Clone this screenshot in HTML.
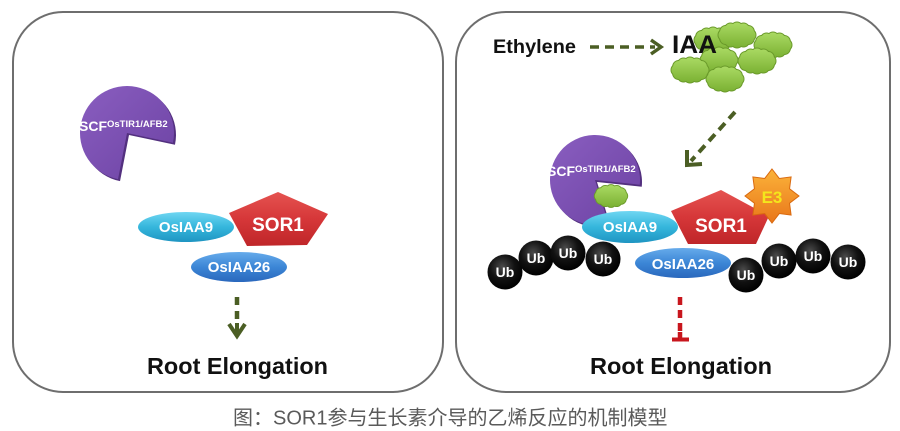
<!DOCTYPE html>
<html>
<head>
<meta charset="utf-8">
<style>
html,body{margin:0;padding:0;background:#fff;width:900px;height:431px;overflow:hidden}
svg{display:block}
</style>
</head>
<body>
<svg width="900" height="431" viewBox="0 0 900 431" xmlns="http://www.w3.org/2000/svg" xmlns:xlink="http://www.w3.org/1999/xlink" font-family="'Liberation Sans', Arial, sans-serif">
<defs>
  <linearGradient id="cyanG" x1="0" y1="0" x2="0" y2="1">
    <stop offset="0" stop-color="#6fd6f2"/>
    <stop offset="0.5" stop-color="#35b6dc"/>
    <stop offset="1" stop-color="#1f95c2"/>
  </linearGradient>
  <linearGradient id="blueG" x1="0" y1="0" x2="0" y2="1">
    <stop offset="0" stop-color="#66abeb"/>
    <stop offset="0.5" stop-color="#3c86d6"/>
    <stop offset="1" stop-color="#2a68bd"/>
  </linearGradient>
  <linearGradient id="redG" x1="0" y1="0" x2="0" y2="1">
    <stop offset="0" stop-color="#e55350"/>
    <stop offset="0.5" stop-color="#d63739"/>
    <stop offset="1" stop-color="#bf2629"/>
  </linearGradient>
  <linearGradient id="purpG" x1="0" y1="0" x2="1" y2="1">
    <stop offset="0" stop-color="#8a5ec0"/>
    <stop offset="1" stop-color="#6c42a3"/>
  </linearGradient>
  <linearGradient id="starG" x1="0" y1="0" x2="0" y2="1">
    <stop offset="0" stop-color="#fbb33a"/>
    <stop offset="1" stop-color="#e9761a"/>
  </linearGradient>
  <radialGradient id="ubG" cx="0.42" cy="0.35" r="0.65">
    <stop offset="0" stop-color="#4a4a4a"/>
    <stop offset="0.55" stop-color="#111"/>
    <stop offset="1" stop-color="#000"/>
  </radialGradient>
  <linearGradient id="cloudG" gradientUnits="userSpaceOnUse" x1="0" y1="-12" x2="0" y2="12">
    <stop offset="0" stop-color="#a9d962"/>
    <stop offset="1" stop-color="#7cb234"/>
  </linearGradient>
  <g id="cloudShape">
    <ellipse cx="0" cy="0" rx="14" ry="8"/>
    <circle cx="13" cy="0" r="5.5"/>
    <circle cx="11.3" cy="3.5" r="5.5"/>
    <circle cx="6.5" cy="6" r="5.5"/>
    <circle cx="0" cy="7" r="5.5"/>
    <circle cx="-6.5" cy="6" r="5.5"/>
    <circle cx="-11.3" cy="3.5" r="5.5"/>
    <circle cx="-13" cy="0" r="5.5"/>
    <circle cx="-11.3" cy="-3.5" r="5.5"/>
    <circle cx="-6.5" cy="-6" r="5.5"/>
    <circle cx="0" cy="-7" r="5.5"/>
    <circle cx="6.5" cy="-6" r="5.5"/>
    <circle cx="11.3" cy="-3.5" r="5.5"/>
  </g>
  <g id="cloud">
    <use xlink:href="#cloudShape" href="#cloudShape" fill="#6a9a2a" stroke="#6a9a2a" stroke-width="2"/>
    <use xlink:href="#cloudShape" href="#cloudShape" fill="url(#cloudG)"/>
  </g>
</defs>

<!-- Panels -->
<rect x="13" y="12" width="430" height="380" rx="50" ry="50" fill="#fff" stroke="#6e6e6e" stroke-width="2"/>
<rect x="456" y="12" width="434" height="380" rx="50" ry="50" fill="#fff" stroke="#6e6e6e" stroke-width="2"/>

<!-- ===== LEFT PANEL ===== -->
<!-- Pacman SCF -->
<path d="M129,135 L120.03,181.14 A47,47 0 1 1 174.97,144.77 Z" fill="#53307f"/>
<path d="M127,133 L118.03,179.14 A47,47 0 1 1 172.97,142.77 Z" fill="url(#purpG)"/>
<text x="79" y="131" font-size="14" font-weight="bold" fill="#fff">SCF<tspan font-size="9.5" dy="-4">OsTIR1/AFB2</tspan></text>

<!-- OsIAA9 -->
<ellipse cx="186" cy="227" rx="48" ry="15" fill="url(#cyanG)"/>
<text x="186" y="232" font-size="15" font-weight="bold" fill="#fff" text-anchor="middle">OsIAA9</text>
<!-- SOR1 -->
<polygon points="278,192 229,213 247,246 307,245 328,214" fill="url(#redG)"/>
<text x="278" y="231" font-size="19" font-weight="bold" fill="#fff" text-anchor="middle">SOR1</text>
<!-- OsIAA26 -->
<ellipse cx="239" cy="267" rx="48" ry="15" fill="url(#blueG)"/>
<text x="239" y="272" font-size="15" font-weight="bold" fill="#fff" text-anchor="middle">OsIAA26</text>

<!-- green dashed down arrow -->
<line x1="237" y1="297" x2="237" y2="320" stroke="#4b5e24" stroke-width="4.5" stroke-dasharray="8,6"/>
<line x1="237" y1="323" x2="237" y2="335" stroke="#4b5e24" stroke-width="4"/>
<polyline points="229,324 237,336 245,324" fill="none" stroke="#4b5e24" stroke-width="4" stroke-linejoin="miter"/>

<text x="237.5" y="374" font-size="23" font-weight="bold" fill="#111" text-anchor="middle" textLength="181" lengthAdjust="spacingAndGlyphs">Root Elongation</text>

<!-- ===== RIGHT PANEL ===== -->
<text x="493" y="53" font-size="19" font-weight="bold" fill="#111" textLength="83" lengthAdjust="spacingAndGlyphs">Ethylene</text>
<line x1="590" y1="47" x2="655" y2="47" stroke="#4b5e24" stroke-width="3.5" stroke-dasharray="9,6"/>
<polyline points="651,40 661,47 651,54" fill="none" stroke="#4b5e24" stroke-width="3.5"/>

<!-- IAA clouds -->
<use xlink:href="#cloud" href="#cloud" transform="translate(713,40)"/>
<use xlink:href="#cloud" href="#cloud" transform="translate(737,35)"/>
<use xlink:href="#cloud" href="#cloud" transform="translate(773,45)"/>
<use xlink:href="#cloud" href="#cloud" transform="translate(757,61)"/>
<use xlink:href="#cloud" href="#cloud" transform="translate(719,60)"/>
<use xlink:href="#cloud" href="#cloud" transform="translate(690,70)"/>
<use xlink:href="#cloud" href="#cloud" transform="translate(725,79)"/>
<text x="672" y="53" font-size="25" font-weight="bold" fill="#111" textLength="45" lengthAdjust="spacingAndGlyphs">IAA</text>

<!-- diagonal dashed arrow -->
<line x1="735" y1="112" x2="691" y2="161" stroke="#4b5e24" stroke-width="4" stroke-dasharray="9,6"/>
<polyline points="687,150 687,165 702,164" fill="none" stroke="#4b5e24" stroke-width="4"/>

<!-- Pacman SCF right -->
<path d="M597,182 L610.2,225 A45,45 0 1 1 641.75,186.7 Z" fill="#53307f"/>
<path d="M595,180 L608.2,223 A45,45 0 1 1 639.75,184.7 Z" fill="url(#purpG)"/>
<text x="547" y="176" font-size="14" font-weight="bold" fill="#fff">SCF<tspan font-size="9.5" dy="-4">OsTIR1/AFB2</tspan></text>
<!-- cloud in mouth -->
<use xlink:href="#cloud" href="#cloud" transform="translate(611,196) scale(0.88)"/>

<!-- OsIAA9 right -->
<ellipse cx="630" cy="227" rx="48" ry="16" fill="url(#cyanG)"/>
<text x="630" y="232" font-size="15" font-weight="bold" fill="#fff" text-anchor="middle">OsIAA9</text>
<!-- SOR1 right -->
<polygon points="721,190 671,211 688,244 756,244 769,216" fill="url(#redG)"/>
<text x="721" y="232" font-size="19" font-weight="bold" fill="#fff" text-anchor="middle">SOR1</text>
<!-- E3 star -->
<polygon points="772,169 779.27,178.45 791.09,176.91 789.55,188.73 799,196 789.55,203.27 791.09,215.09 779.27,213.55 772,223 764.73,213.55 752.91,215.09 754.45,203.27 745,196 754.45,188.73 752.91,176.91 764.73,178.45" fill="url(#starG)" stroke="#d9690f" stroke-width="1"/>
<text x="772" y="203" font-size="17" font-weight="bold" fill="#f4e61c" text-anchor="middle">E3</text>

<!-- OsIAA26 right -->
<ellipse cx="683" cy="263" rx="48" ry="15" fill="url(#blueG)"/>
<text x="683" y="269" font-size="15" font-weight="bold" fill="#fff" text-anchor="middle">OsIAA26</text>

<!-- Ub circles -->
<g font-size="14" font-weight="bold" fill="#fff" text-anchor="middle">
  <circle cx="505" cy="272" r="17.5" fill="url(#ubG)"/><text x="505" y="277">Ub</text>
  <circle cx="536" cy="258" r="17.5" fill="url(#ubG)"/><text x="536" y="263">Ub</text>
  <circle cx="568" cy="253" r="17.5" fill="url(#ubG)"/><text x="568" y="258">Ub</text>
  <circle cx="603" cy="259" r="17.5" fill="url(#ubG)"/><text x="603" y="264">Ub</text>
  <circle cx="746" cy="275" r="17.5" fill="url(#ubG)"/><text x="746" y="280">Ub</text>
  <circle cx="779" cy="261" r="17.5" fill="url(#ubG)"/><text x="779" y="266">Ub</text>
  <circle cx="813" cy="256" r="17.5" fill="url(#ubG)"/><text x="813" y="261">Ub</text>
  <circle cx="848" cy="262" r="17.5" fill="url(#ubG)"/><text x="848" y="267">Ub</text>
</g>

<!-- red inhibition -->
<line x1="680" y1="297" x2="680" y2="334" stroke="#c8161d" stroke-width="4.5" stroke-dasharray="8,5"/>
<line x1="680" y1="332" x2="680" y2="339" stroke="#c8161d" stroke-width="4.5"/>
<line x1="672" y1="339.5" x2="689" y2="339.5" stroke="#c8161d" stroke-width="4"/>

<text x="681" y="374" font-size="23" font-weight="bold" fill="#111" text-anchor="middle" textLength="182" lengthAdjust="spacingAndGlyphs">Root Elongation</text>

<!-- Caption -->
<text x="233" y="424.5" font-size="20" fill="#5a5a5a" font-family="'Liberation Sans', 'Noto Sans CJK SC', sans-serif">图：SOR1参与生长素介导的乙烯反应的机制模型</text>
</svg>
</body>
</html>
